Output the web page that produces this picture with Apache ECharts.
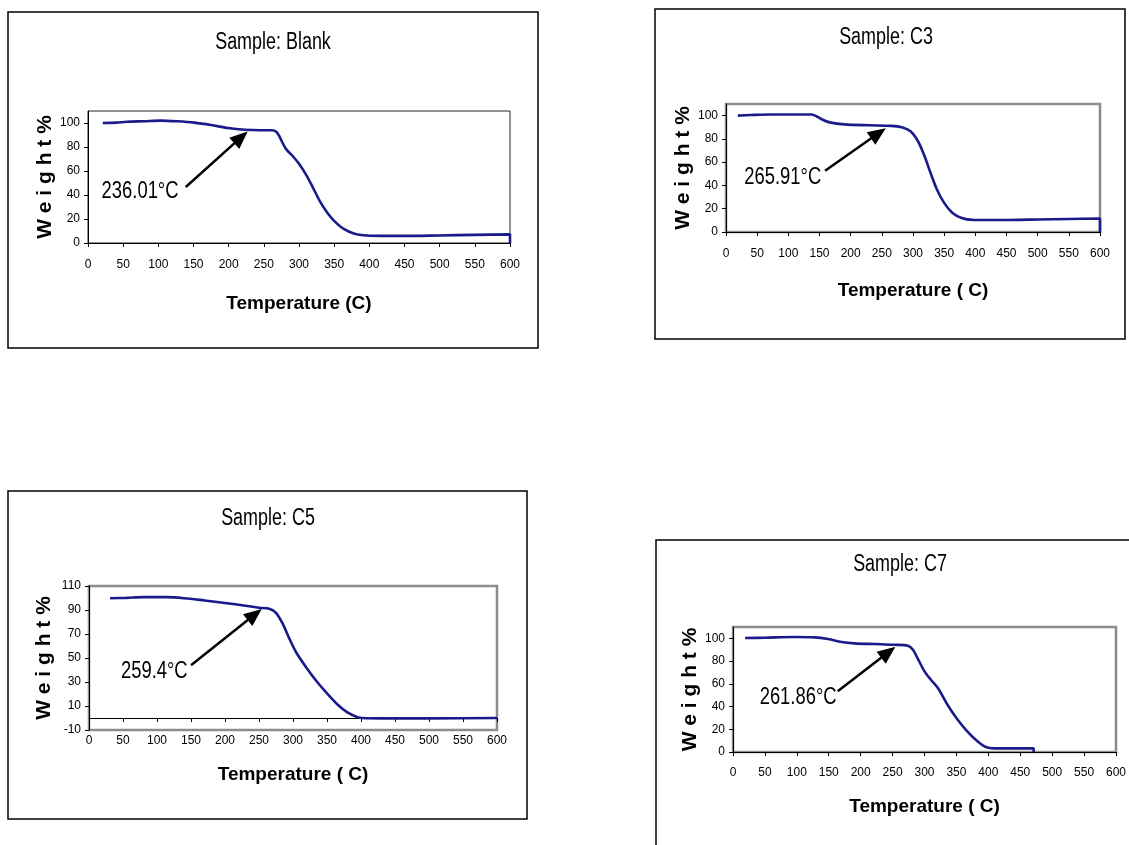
<!DOCTYPE html>
<html><head><meta charset="utf-8">
<script src="https://cdn.jsdelivr.net/npm/echarts@6/dist/echarts.min.js"></script>
<style>html,body{margin:0;padding:0;background:#fff}#c{width:1129px;height:845px}</style>
</head><body><div id="c"></div>
<script>
// ---------- data ----------
const sampleTitles = ['Sample: Blank', 'Sample: C3', 'Sample: C5', 'Sample: C7'];
const xAxisTitles = ['Temperature (C)', 'Temperature ( C)', 'Temperature ( C)', 'Temperature ( C)'];
const yAxisTitle = 'W e i g h t %';
const onsetLabels = ['236.01°C', '265.91°C', '259.4°C', '261.86°C'];

const blankTemp   = [21, 40, 55, 80, 103, 127, 151, 175, 199, 223, 245, 262, 268, 272, 277, 282, 291, 300, 310, 320, 330, 340, 350, 363, 378, 397, 417, 450, 499, 550, 600, 600];
const blankWeight = [100, 100.3, 101, 101.5, 102, 101.4, 100.3, 98.3, 95.8, 94.4, 94, 94, 92.5, 89, 83, 78, 72.5, 66, 57, 46, 34.5, 25.5, 18.5, 12, 8, 6.2, 5.9, 5.9, 6.3, 6.8, 7.2, 0];

const c3Temp   = [19, 40, 70, 100, 137, 145, 155, 168, 190, 230, 265, 282, 296, 308, 318, 328, 338, 350, 363, 378, 396, 450, 500, 550, 600, 600];
const c3Weight = [100, 100.5, 101, 101, 101, 99.5, 96.5, 94, 92.5, 91.7, 91.2, 90, 86.5, 78, 66, 51, 37, 25, 16.5, 12, 10.4, 10.3, 10.8, 11.2, 11.5, 0];

const c5Temp   = [31, 55, 80, 115, 140, 170, 200, 230, 250, 265, 275, 285, 295, 305, 320, 335, 350, 365, 380, 395, 402, 430, 500, 600];
const c5Weight = [99.8, 100.1, 100.7, 100.7, 99.8, 97.9, 95.9, 93.6, 91.9, 91.1, 87.7, 78.4, 65.7, 54.4, 41.7, 30.4, 20.5, 11.5, 4.7, 0.7, 0, -0.3, -0.3, 0];

const c7Temp   = [19, 50, 97, 128, 149, 170, 190, 222, 253, 274, 282, 289, 300, 310, 321, 336, 352, 367, 383, 396, 409, 440, 471, 471];
const c7Weight = [100.3, 100.6, 101.2, 100.9, 99.4, 96.8, 95.6, 95, 94.4, 93.5, 90, 82.7, 71, 63.6, 56.3, 41.6, 28.4, 18.2, 9.4, 4.4, 3.2, 3.2, 3.2, 0];

const temps = [blankTemp, c3Temp, c5Temp, c7Temp];
const weights = [blankWeight, c3Weight, c5Weight, c7Weight];

// ---------- layout / style ----------
const FONT = "'Liberation Sans',Arial,sans-serif";
const LINE_COLOR = '#1a1a8a';
const panels = [
  { box: [8, 12, 530, 336], grid: { left: 88, top: 111, width: 422, height: 132 }, yMin: 0, yMax: 110,
    border: { color: '#222', width: 1 }, title: [273, 43], labelMargin: 16, nameGap: 51, yNameGap: 32,
    text: [74, 42.5], arrow: [[139, 46.7], [217.5, 88]], zeroAxis: false },
  { box: [655, 9, 470, 330], grid: { left: 726, top: 104, width: 374, height: 128 }, yMin: 0, yMax: 110,
    border: { color: '#8c8c8c', width: 2.5 }, title: [886, 38], labelMargin: 16, nameGap: 49, yNameGap: 28,
    text: [91, 46.6], arrow: [[159, 52.6], [244.5, 84.8]], zeroAxis: false },
  { box: [8, 491, 519, 328], grid: { left: 89, top: 586, width: 408, height: 144 }, yMin: -10, yMax: 110,
    border: { color: '#8c8c8c', width: 2.5 }, title: [268, 519], labelMargin: 5, nameGap: 35, yNameGap: 34,
    text: [96, 38.3], arrow: [[150, 44], [243.7, 86.2]], zeroAxis: true },
  { box: [656, 540, 500, 330], grid: { left: 733, top: 627, width: 384, height: 125 }, yMin: 0, yMax: 110,
    border: { color: '#8c8c8c', width: 2.5 }, title: [900, 565], labelMargin: 15, nameGap: 45, yNameGap: 32,
    text: [102, 48.2], arrow: [[164, 53.5], [243.3, 87.8]], zeroAxis: false }
];

const grids = [], xAxes = [], yAxes = [], series = [], graphics = [];

panels.forEach((p, i) => {
  grids.push({
    left: p.grid.left, top: p.grid.top, width: p.grid.width, height: p.grid.height,
    show: true, borderColor: p.border.color, borderWidth: p.border.width, backgroundColor: 'transparent'
  });
  const xIdx = xAxes.length;
  xAxes.push({
    type: 'value', gridIndex: i, min: 0, max: 600, interval: 50, position: 'bottom',
    axisLine: { show: !p.zeroAxis, onZero: false, lineStyle: { color: '#000', width: 1 } },
    axisTick: { show: !p.zeroAxis, length: 4, lineStyle: { color: '#000', width: 1 } },
    axisLabel: { margin: p.labelMargin, fontSize: 12, color: '#000', fontFamily: FONT },
    splitLine: { show: false },
    name: xAxisTitles[i], nameLocation: 'middle', nameGap: p.nameGap,
    nameTextStyle: { fontSize: 19, fontWeight: 'bold', fontFamily: FONT, color: '#000' }
  });
  if (p.zeroAxis) {
    xAxes.push({
      type: 'value', gridIndex: i, min: 0, max: 600, interval: 50, position: 'bottom',
      axisLine: { show: true, onZero: true, lineStyle: { color: '#000', width: 1 } },
      axisTick: { show: true, length: 4, lineStyle: { color: '#000', width: 1 } },
      axisLabel: { show: false }, splitLine: { show: false }
    });
  }
  yAxes.push({
    type: 'value', gridIndex: i, min: p.yMin, max: p.yMax, interval: 20,
    axisLine: { show: true, onZero: false, lineStyle: { color: '#000', width: 1 } },
    axisTick: { show: true, length: 4, lineStyle: { color: '#000', width: 1 } },
    axisLabel: { margin: 8, fontSize: 12, color: '#000', fontFamily: FONT, showMaxLabel: p.zeroAxis },
    splitLine: { show: false },
    name: yAxisTitle, nameLocation: 'middle', nameGap: p.yNameGap,
    nameTextStyle: { fontSize: 21, fontWeight: 'bold', fontFamily: FONT, color: '#000' }
  });
  series.push({
    type: 'line', xAxisIndex: xIdx, yAxisIndex: i,
    data: temps[i].map((t, k) => [t, weights[i][k]]),
    showSymbol: false, symbol: 'none', clip: false, smooth: 0.3,
    lineStyle: { color: LINE_COLOR, width: 2.6 }, itemStyle: { color: LINE_COLOR },
    animation: false,
    markLine: {
      silent: true, animation: false, symbol: ['none', 'triangle'], symbolSize: [15, 18],
      lineStyle: { color: '#000', width: 2.5, type: 'solid' }, itemStyle: { color: '#000' },
      label: { show: false },
      data: [[{ coord: p.arrow[0] }, { coord: p.arrow[1] }]]
    }
  });
  graphics.push({
    type: 'rect', silent: true, z: 100,
    shape: { x: p.box[0], y: p.box[1], width: p.box[2], height: p.box[3] },
    style: { fill: 'none', stroke: '#000', lineWidth: 1.5 }
  });
  graphics.push({
    type: 'text', silent: true, x: p.title[0], y: p.title[1], scaleX: 0.78, scaleY: 1,
    style: { text: sampleTitles[i], fill: '#000', fontSize: 23, fontFamily: FONT, align: 'center', verticalAlign: 'middle' }
  });
});

const chart = echarts.init(document.getElementById('c'), null, { renderer: 'canvas', width: 1129, height: 845 });
chart.setOption({
  animation: false,
  backgroundColor: '#fff',
  grid: grids, xAxis: xAxes, yAxis: yAxes, series: series, graphic: graphics
});

// onset annotation labels, placed at data coordinates through each series' axes
const labelGraphics = panels.map((p, i) => {
  const pt = chart.convertToPixel({ seriesIndex: i }, p.text);
  return {
    type: 'text', silent: true, x: pt[0], y: pt[1], scaleX: 0.8, scaleY: 1,
    style: { text: onsetLabels[i], fill: '#000', fontSize: 23, fontFamily: FONT, align: 'center', verticalAlign: 'middle' }
  };
});
chart.setOption({ graphic: graphics.concat(labelGraphics) });
</script>
</body></html>
